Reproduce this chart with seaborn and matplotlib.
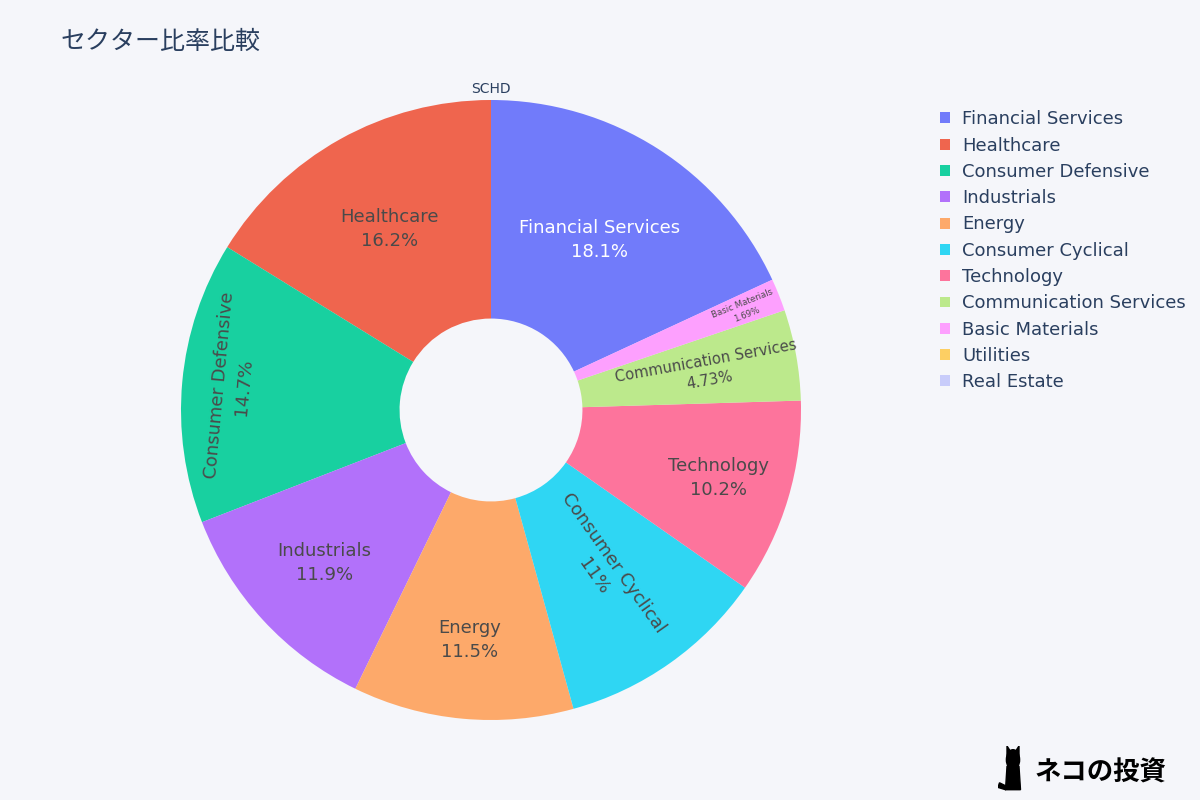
import matplotlib
matplotlib.use("Agg")
import matplotlib.pyplot as plt
import seaborn as sns
import numpy as np

# -----------------------------------------------------
# DATA
# -----------------------------------------------------

title = "セクター比率比較"
fund = "SCHD"

sectors = ["Financial Services", "Healthcare", "Consumer Defensive", "Industrials",
           "Energy", "Consumer Cyclical", "Technology", "Communication Services",
           "Basic Materials", "Utilities", "Real Estate"]
weights = [18.1, 16.2, 14.7, 11.9, 11.5, 11.0, 10.2, 4.73, 1.69, 0.0, 0.0]
pct_labels = ["18.1%", "16.2%", "14.7%", "11.9%", "11.5%", "11%", "10.2%",
              "4.73%", "1.69%", "", ""]

colors = ["#636EFA", "#EF553B", "#00CC96", "#AB63FA", "#FFA15A", "#19D3F3",
          "#FF6692", "#B6E880", "#FF97FF", "#FECB52", "#C4C8FA"]

# -----------------------------------------------------
# STYLE
# -----------------------------------------------------

bg = "#f5f6fa"
sns.set_theme(style="white", rc={"figure.facecolor": bg, "axes.facecolor": bg})
plt.rcParams['font.family'] = ['DejaVu Sans', 'Noto Sans CJK JP']

palette = sns.color_palette(colors)

fig = plt.figure(figsize=(12, 8), dpi=100)
# square axes for the donut (center ~ (491,410) px, radius ~310 px)
ax = fig.add_axes([181 / 1200, 80 / 800, 620 / 1200, 620 / 800])

total = sum(weights)
start = 90 - weights[0] / total * 360
wedges, _ = ax.pie(
    weights,
    colors=palette,
    startangle=start,
    counterclock=True,
    radius=1.0,
    wedgeprops=dict(width=0.705, linewidth=0, alpha=0.9),
)
ax.set_xlim(-1, 1)
ax.set_ylim(-1, 1)
ax.set_aspect("equal")
ax.axis("off")

# -----------------------------------------------------
# SLICE LABELS
# -----------------------------------------------------

# radius, orientation ('h', 'tan', 'rad'), font size, color
label_cfg = {
    "Financial Services": (0.65, "h", 13, "white"),
    "Healthcare": (0.67, "h", 13, "#4a4a4a"),
    "Consumer Defensive": (0.84, "tan", 13, "#4a4a4a"),
    "Industrials": (0.73, "h", 13, "#4a4a4a"),
    "Energy": (0.745, "h", 13, "#4a4a4a"),
    "Consumer Cyclical": (0.63, "rad", 13, "#4a4a4a"),
    "Technology": (0.765, "h", 13, "#4a4a4a"),
    "Communication Services": (0.71, "rad", 10.6, "#4a4a4a"),
    "Basic Materials": (0.88, "rad", 6.2, "#4a4a4a"),
}

for w, name, pct in zip(wedges, sectors, pct_labels):
    if name not in label_cfg:
        continue
    r, mode, fs, col = label_cfg[name]
    mid = (w.theta1 + w.theta2) / 2
    x = r * np.cos(np.radians(mid))
    y = r * np.sin(np.radians(mid))
    if mode == "h":
        rot = 0
    elif mode == "tan":
        rot = mid - 90
    else:
        rot = (mid + 180) % 360 - 180
        if rot > 90:
            rot -= 180
        elif rot < -90:
            rot += 180
    ax.text(x, y, f"{name}\n{pct}", ha="center", va="center", rotation=rot,
            rotation_mode="anchor", fontsize=fs, color=col, linespacing=1.42)

# -----------------------------------------------------
# TITLE / LEGEND / LOGO
# -----------------------------------------------------

fig.text(60 / 1200, 1 - 42 / 800, title, fontsize=18, color="#2a3f5f",
         va="center", ha="left", family=['Noto Sans CJK JP', 'DejaVu Sans'])
fig.text(491 / 1200, 1 - 89 / 800, fund, fontsize=10, color="#2a3f5f",
         va="center", ha="center")

leg = fig.legend(wedges, sectors, loc="upper left",
                 bbox_to_anchor=(924 / 1200, 1 - 94 / 800),
                 frameon=False, fontsize=13, labelcolor="#2a3f5f",
                 handlelength=0.55, handleheight=0.55, handletextpad=0.65,
                 labelspacing=0.46)
for h in leg.legend_handles:
    h.set_alpha(0.9)

# small cat mark + site name
cat = fig.add_axes([998 / 1200, 8 / 800, 30 / 1200, 46 / 800])
cat.set_xlim(0, 1)
cat.set_ylim(0, 1)
cat.axis("off")
cat.add_patch(plt.Polygon([[0.25, 0.05], [0.75, 0.05], [0.7, 0.55], [0.3, 0.55]],
                          color="black"))
cat.add_patch(plt.Circle((0.5, 0.7), 0.22, color="black"))
cat.add_patch(plt.Polygon([[0.3, 0.75], [0.3, 1.0], [0.45, 0.85]], color="black"))
cat.add_patch(plt.Polygon([[0.7, 0.75], [0.7, 1.0], [0.55, 0.85]], color="black"))
cat.add_patch(plt.Polygon([[0.25, 0.05], [0.0, 0.1], [0.05, 0.2], [0.3, 0.12]],
                          color="black"))

fig.text(1035 / 1200, 1 - 773 / 800, "ネコの投資", fontsize=19, color="black",
         va="center", ha="left", weight="bold",
         family=['Noto Sans CJK JP', 'DejaVu Sans'])

fig.savefig("out.png", dpi=100, facecolor=bg)
print("[OK] Saved: out.png")
